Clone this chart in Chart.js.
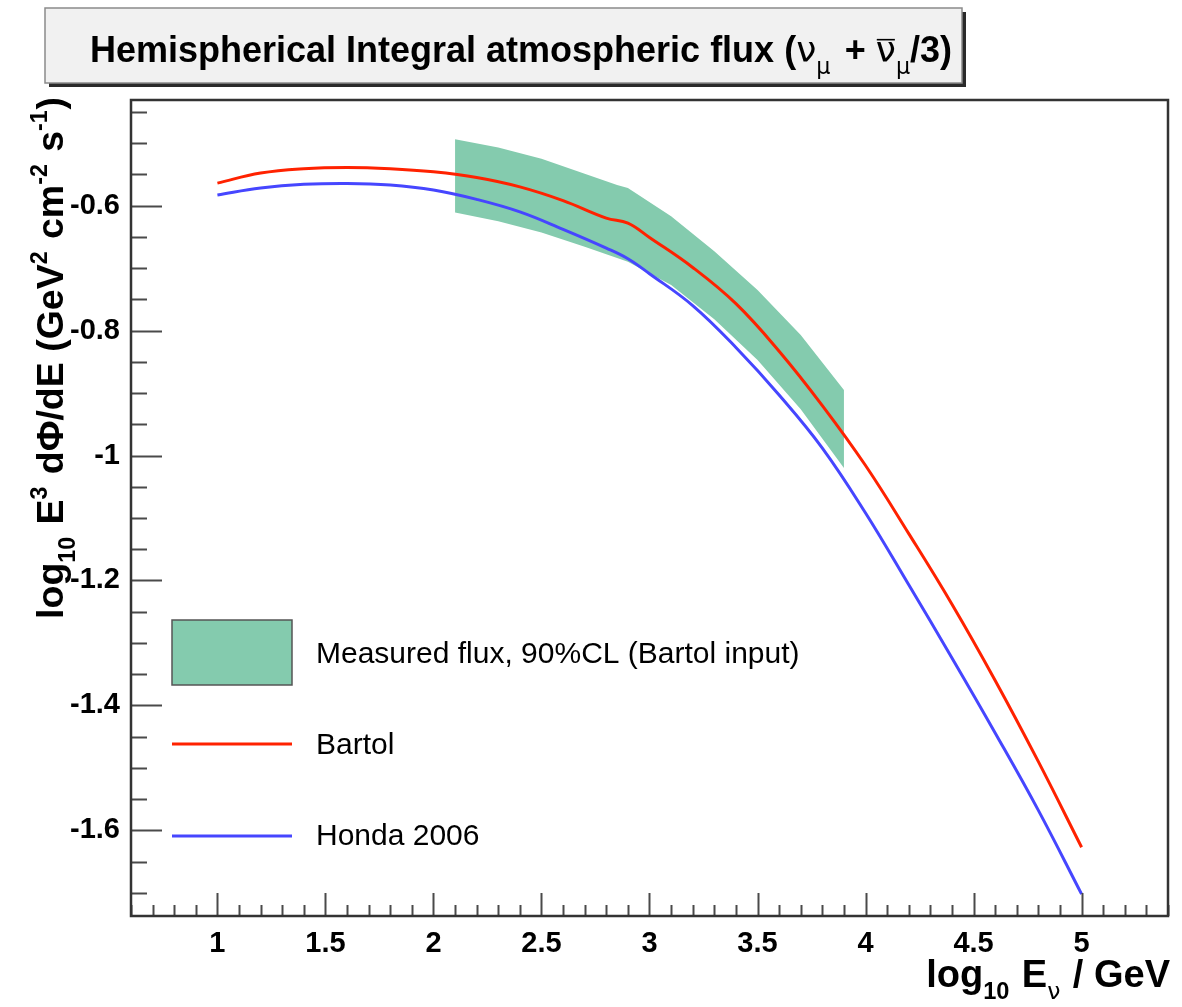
<!DOCTYPE html>
<html>
<head>
<meta charset="utf-8">
<script src="https://cdn.jsdelivr.net/npm/chart.js@4/dist/chart.umd.min.js"></script>
<style>
  html, body { margin: 0; padding: 0; background: #ffffff; }
  #wrap { width: 1182px; height: 1007px; position: relative; }
</style>
</head>
<body>
<div id="wrap"><canvas id="c" width="1182" height="1007"></canvas></div>
<script>
// log10(E / GeV) sample points and log10(E^3 dPhi/dE) for each flux model
const bartolE    = [1.0, 1.2, 1.4, 1.6, 1.8, 2.0, 2.2, 2.4, 2.6, 2.8, 2.9, 3.0, 3.2, 3.4, 3.6, 3.8, 4.0, 4.2, 4.4, 4.6, 4.8, 5.0];
const bartolFlux = [-0.564, -0.548, -0.541, -0.539, -0.541, -0.546, -0.555, -0.570, -0.592, -0.620, -0.628, -0.651, -0.699, -0.757, -0.833, -0.920, -1.016, -1.125, -1.238, -1.360, -1.490, -1.627];

const hondaE     = [1.0, 1.2, 1.4, 1.6, 1.8, 2.0, 2.2, 2.4, 2.6, 2.8, 2.9, 3.0, 3.2, 3.4, 3.6, 3.8, 4.0, 4.2, 4.4, 4.6, 4.8, 5.0];
const hondaFlux  = [-0.583, -0.572, -0.566, -0.5645, -0.567, -0.575, -0.590, -0.610, -0.638, -0.668, -0.685, -0.709, -0.760, -0.827, -0.903, -0.988, -1.092, -1.207, -1.324, -1.444, -1.568, -1.702];

// measured flux, 90% CL band
const bandE      = [2.1, 2.3, 2.5, 2.7, 2.85, 2.9, 3.1, 3.3, 3.5, 3.7, 3.9];
const bandUpper  = [-0.494, -0.507, -0.525, -0.549, -0.567, -0.572, -0.617, -0.673, -0.735, -0.807, -0.895];
const bandLower  = [-0.611, -0.625, -0.643, -0.666, -0.684, -0.690, -0.727, -0.782, -0.847, -0.926, -1.020];

// axes
const xMajorTicks = [1, 1.5, 2, 2.5, 3, 3.5, 4, 4.5, 5];
const yMajorTicks = [-1.6, -1.4, -1.2, -1, -0.8, -0.6];
const xMinorStep = 0.1;
const yMinorStep = 0.05;
const xLimits = [0.6, 5.4];
const yLimits = [-1.737, -0.431];

const seriesLabels = ['Bartol', 'Honda 2006', 'Measured flux, 90%CL (Bartol input)'];

const FONT = '"Liberation Sans", Helvetica, Arial, sans-serif';
const SYM = '"DejaVu Sans", sans-serif';
const RED = '#ff2200';
const BLUE = '#4646ff';
const GREEN = 'rgb(132,203,174)';

const toXY = (xs, ys) => xs.map((x, i) => ({ x: x, y: ys[i] }));

// rich text helpers for sub/superscripts
function segFont(s, size) {
  const px = (s.k === 'sub' || s.k === 'sup') ? size * 0.62 : size;
  return (s.w || 'bold') + ' ' + px.toFixed(1) + 'px ' + (s.f || FONT);
}
function richWidth(ctx, segs, size) {
  let w = 0;
  for (const s of segs) {
    ctx.font = segFont(s, size);
    w += ctx.measureText(s.t).width + (s.gap || 0) * size;
  }
  return w;
}
function drawRich(ctx, segs, x, y, size) {
  for (const s of segs) {
    ctx.font = segFont(s, size);
    const dy = s.k === 'sub' ? 0.32 * size : (s.k === 'sup' ? -0.42 * size : 0);
    ctx.fillText(s.t, x, y + dy);
    const w = ctx.measureText(s.t).width;
    if (s.bar) {
      ctx.save();
      ctx.lineWidth = 1.6;
      ctx.strokeStyle = ctx.fillStyle;
      ctx.beginPath();
      ctx.moveTo(x + 1, y - size * 0.62);
      ctx.lineTo(x + w - 1, y - size * 0.62);
      ctx.stroke();
      ctx.restore();
    }
    x += w + (s.gap || 0) * size;
  }
}

const titleSegs = [
  { t: 'Hemispherical Integral atmospheric flux (' },
  { t: 'ν', w: 'normal', f: SYM },
  { t: 'μ', k: 'sub', w: 'normal', f: SYM, gap: 0.12 },
  { t: ' + ' },
  { t: 'ν', w: 'normal', f: SYM, bar: true },
  { t: 'μ', k: 'sub', w: 'normal', f: SYM },
  { t: '/3)' }
];
const yTitleSegs = [
  { t: 'log' }, { t: '10', k: 'sub', gap: 0.05 }, { t: ' E' }, { t: '3', k: 'sup', gap: 0.05 },
  { t: ' dΦ/dE (GeV' }, { t: '2', k: 'sup', gap: 0.05 }, { t: ' cm' }, { t: '-2', k: 'sup', gap: 0.05 },
  { t: ' s' }, { t: '-1', k: 'sup', gap: 0.02 }, { t: ')' }
];
const xTitleSegs = [
  { t: 'log' }, { t: '10', k: 'sub', gap: 0.05 }, { t: ' E' }, { t: 'ν', k: 'sub', w: 'normal', f: SYM, gap: 0.05 }, { t: ' / GeV' }
];

const frameDecor = {
  id: 'frameDecor',
  afterDraw(chart) {
    const ctx = chart.ctx;
    const a = chart.chartArea;
    const xs = chart.scales.x, ys = chart.scales.y;
    ctx.save();

    // tick marks pointing into the frame
    ctx.strokeStyle = '#4a4a4a';
    ctx.lineWidth = 2;
    const isMajor = (v, list) => list.some(m => Math.abs(m - v) < 1e-6);
    ctx.beginPath();
    for (let k = Math.ceil(xLimits[0] / xMinorStep); k * xMinorStep <= xLimits[1] + 1e-9; k++) {
      const v = +(k * xMinorStep).toFixed(4);
      const px = Math.round(xs.getPixelForValue(v)) + 0.5;
      const len = isMajor(v, xMajorTicks) ? 23 : 11;
      ctx.moveTo(px, a.bottom);
      ctx.lineTo(px, a.bottom - len);
    }
    for (let k = Math.ceil(yLimits[0] / yMinorStep); k * yMinorStep <= yLimits[1] + 1e-9; k++) {
      const v = +(k * yMinorStep).toFixed(4);
      const py = Math.round(ys.getPixelForValue(v)) + 0.5;
      const len = isMajor(v, yMajorTicks) ? 31 : 16;
      ctx.moveTo(a.left, py);
      ctx.lineTo(a.left + len, py);
    }
    ctx.stroke();

    // frame
    ctx.strokeStyle = '#333333';
    ctx.lineWidth = 2.5;
    ctx.strokeRect(a.left, a.top, a.right - a.left, a.bottom - a.top);

    // title box with drop shadow
    const bx = 45, by = 8, bw = 917, bh = 75;
    ctx.fillStyle = '#2a2a2a';
    ctx.fillRect(bx + 4, by + 4, bw, bh);
    ctx.fillStyle = '#f1f1f1';
    ctx.fillRect(bx, by, bw, bh);
    ctx.strokeStyle = '#8a8a8a';
    ctx.lineWidth = 1.5;
    ctx.strokeRect(bx, by, bw, bh);
    ctx.fillStyle = '#000';
    ctx.textBaseline = 'alphabetic';
    ctx.textAlign = 'left';
    const tSize = 36;
    const tw = richWidth(ctx, titleSegs, tSize);
    drawRich(ctx, titleSegs, 521 - tw / 2, 62, tSize);

    // y axis title, rotated, ending near the top of the frame
    const ySize = 37.5;
    const yw = richWidth(ctx, yTitleSegs, ySize);
    ctx.save();
    ctx.translate(63, 97 + yw);
    ctx.rotate(-Math.PI / 2);
    drawRich(ctx, yTitleSegs, 0, 0, ySize);
    ctx.restore();

    // x axis title, right aligned
    const xSize = 38;
    const xw = richWidth(ctx, xTitleSegs, xSize);
    drawRich(ctx, xTitleSegs, 1170 - xw, 987, xSize);

    // legend
    const ds = chart.data.datasets;
    const lx0 = 172, lx1 = 292, tx = 316;
    ctx.fillStyle = GREEN;
    ctx.fillRect(lx0, 620, lx1 - lx0, 65);
    ctx.strokeStyle = '#555';
    ctx.lineWidth = 1.5;
    ctx.strokeRect(lx0, 620, lx1 - lx0, 65);
    ctx.lineWidth = 3;
    ctx.strokeStyle = ds[0].borderColor;
    ctx.beginPath(); ctx.moveTo(lx0, 744); ctx.lineTo(lx1, 744); ctx.stroke();
    ctx.strokeStyle = ds[1].borderColor;
    ctx.beginPath(); ctx.moveTo(lx0, 836); ctx.lineTo(lx1, 836); ctx.stroke();
    ctx.fillStyle = '#000';
    ctx.font = 'normal 30px ' + FONT;
    ctx.textBaseline = 'middle';
    ctx.fillText(seriesLabels[2], tx, 655);
    ctx.fillText(seriesLabels[0], tx, 746);
    ctx.fillText(seriesLabels[1], tx, 837);

    ctx.restore();
  }
};

new Chart(document.getElementById('c'), {
  type: 'line',
  data: {
    datasets: [
      { label: seriesLabels[0], data: toXY(bartolE, bartolFlux), borderColor: RED, borderWidth: 3,
        pointRadius: 0, fill: false, tension: 0.4 },
      { label: seriesLabels[1], data: toXY(hondaE, hondaFlux), borderColor: BLUE, borderWidth: 3,
        pointRadius: 0, fill: false, tension: 0.4 },
      { label: 'lower', data: toXY(bandE, bandLower), borderWidth: 0, borderColor: 'rgba(0,0,0,0)',
        pointRadius: 0, fill: false, tension: 0 },
      { label: seriesLabels[2], data: toXY(bandE, bandUpper), borderWidth: 0, borderColor: 'rgba(0,0,0,0)',
        backgroundColor: GREEN, pointRadius: 0, fill: '-1', tension: 0 }
    ]
  },
  options: {
    responsive: false,
    animation: false,
    devicePixelRatio: 1,
    layout: { padding: { top: 100, right: 14, left: 0, bottom: 0 } },
    plugins: { legend: { display: false }, tooltip: { enabled: false }, title: { display: false } },
    scales: {
      x: {
        type: 'linear', min: xLimits[0], max: xLimits[1],
        afterBuildTicks: s => { s.ticks = xMajorTicks.map(v => ({ value: v })); },
        afterFit: s => { s.height = 91; },
        grid: { display: false, drawTicks: false },
        border: { display: false },
        ticks: { color: '#000', padding: 11, maxRotation: 0, autoSkip: false,
                 font: { family: FONT, size: 29, weight: 'bold' },
                 callback: v => String(+v.toFixed(2)) }
      },
      y: {
        type: 'linear', min: yLimits[0], max: yLimits[1],
        afterBuildTicks: s => { s.ticks = yMajorTicks.map(v => ({ value: v })); },
        afterFit: s => { s.width = 131; },
        grid: { display: false, drawTicks: false },
        border: { display: false },
        ticks: { color: '#000', padding: 11, autoSkip: false,
                 font: { family: FONT, size: 29, weight: 'bold' },
                 callback: v => String(+v.toFixed(2)) }
      }
    }
  },
  plugins: [frameDecor]
});
</script>
</body>
</html>
